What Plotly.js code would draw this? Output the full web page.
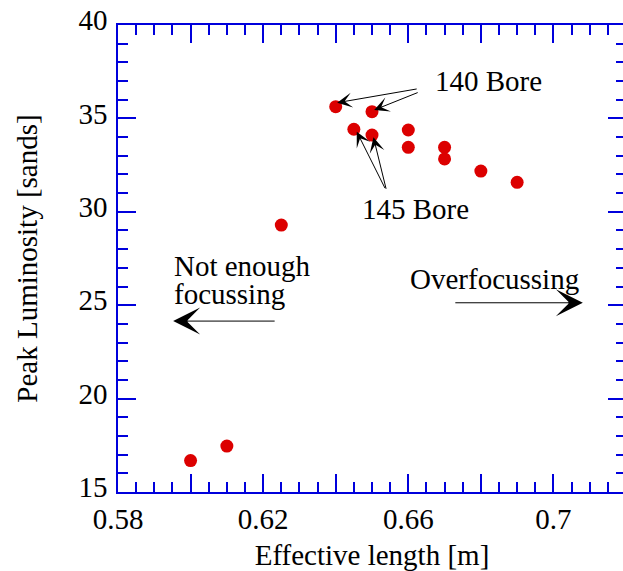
<!DOCTYPE html>
<html>
<head>
<meta charset="utf-8">
<script src="https://cdn.plot.ly/plotly-3.0.1.min.js"></script>
<style>
html, body { margin: 0; padding: 0; overflow: hidden; background: #fff; }
#chart { width: 627px; height: 571px; }
</style>
</head>
<body>
<div id="chart"></div>
<script>
// Data
const effLength = [0.64, 0.65, 0.645, 0.65, 0.66, 0.66, 0.67, 0.67, 0.68, 0.69, 0.625, 0.60, 0.61];
const peakLumi  = [35.63, 35.36, 34.42, 34.11, 34.38, 33.45, 33.45, 32.83, 32.18, 31.58, 29.29, 16.68, 17.46];

const xTickVals = [0.58, 0.60, 0.62, 0.64, 0.66, 0.68, 0.70, 0.72];
const xTickText = ['0.58', '', '0.62', '', '0.66', '', '0.7', ''];
const yTickVals = [15, 20, 25, 30, 35, 40];
const yTickText = ['15', '20', '25', '30', '35', '40'];

const FONT = "Liberation Serif";
const AXIS_BLUE = 'rgb(0,0,220)';

const trace = {
  x: effLength,
  y: peakLumi,
  type: 'scatter',
  mode: 'markers',
  marker: { color: 'rgb(220,0,0)', size: 13 },
  hoverinfo: 'x+y'
};

const axisCommon = {
  showgrid: false,
  zeroline: false,
  showline: true,
  linecolor: AXIS_BLUE,
  linewidth: 1.5,
  ticks: 'inside',
  tickcolor: AXIS_BLUE,
  tickwidth: 1.5,
  ticklen: 18,
  mirror: 'allticks',
  tickfont: { family: FONT, size: 29, color: '#000' }
};

const arrowCommon = {
  xref: 'x', yref: 'y', axref: 'pixel', ayref: 'pixel',
  text: '', showarrow: true, arrowhead: 3, arrowcolor: '#000',
  arrowwidth: 1, standoff: 0
};

const layout = {
  width: 627,
  height: 571,
  margin: { l: 118, r: 1, t: 25, b: 79 },
  paper_bgcolor: '#fff',
  plot_bgcolor: '#fff',
  showlegend: false,
  font: { family: FONT, size: 29, color: '#000' },
  xaxis: Object.assign({}, axisCommon, {
    range: [0.58, 0.72],
    tickmode: 'array',
    tickvals: xTickVals,
    ticktext: xTickText,
    minor: { dtick: 0.005, tick0: 0.58, ticks: 'inside', ticklen: 10, tickcolor: AXIS_BLUE, tickwidth: 1.5, showgrid: false },
    title: { text: 'Effective length [m]', font: { family: FONT, size: 29, color: '#000' } }
  }),
  yaxis: Object.assign({}, axisCommon, {
    range: [15, 40],
    tickmode: 'array',
    tickvals: yTickVals,
    ticktext: yTickText,
    ticklabelshift: -5,
    ticklabelstandoff: 3,
    minor: { dtick: 1, tick0: 15, ticks: 'inside', ticklen: 10, tickcolor: AXIS_BLUE, tickwidth: 1.5, showgrid: false },
    title: { text: 'Peak Luminosity [sands]', standoff: 32, font: { family: FONT, size: 29, color: '#000' } }
  }),
  annotations: [
    Object.assign({}, arrowCommon, { x: 0.6404, y: 35.84, ax: 81, ay: -14, arrowsize: 2.5 }),
    Object.assign({}, arrowCommon, { x: 0.6506, y: 35.45, ax: 45, ay: -18, arrowsize: 2.5 }),
    Object.assign({}, arrowCommon, { x: 0.6458, y: 34.29, ax: 29, ay: 58, arrowsize: 2.5 }),
    Object.assign({}, arrowCommon, { x: 0.6504, y: 33.99, ax: 13, ay: 53, arrowsize: 2.5 }),
    Object.assign({}, arrowCommon, { x: 0.5952, y: 24.15, ax: 103, ay: 0, arrowsize: 4.5 }),
    Object.assign({}, arrowCommon, { x: 0.7081, y: 25.13, ax: -129, ay: 0, arrowsize: 4.5 }),
    { xref: 'x', yref: 'y', x: 0.6821, y: 37.0, text: '140 Bore', showarrow: false, xanchor: 'center', yanchor: 'middle' },
    { xref: 'x', yref: 'y', x: 0.6619, y: 30.15, text: '145 Bore', showarrow: false, xanchor: 'center', yanchor: 'middle' },
    { xref: 'x', yref: 'y', x: 0.5948, y: 27.10, text: 'Not enough', showarrow: false, xanchor: 'left', yanchor: 'middle', align: 'left' },
    { xref: 'x', yref: 'y', x: 0.5948, y: 25.60, text: 'focussing', showarrow: false, xanchor: 'left', yanchor: 'middle', align: 'left' },
    { xref: 'x', yref: 'y', x: 0.66, y: 26.4, text: 'Overfocussing', showarrow: false, xanchor: 'left', yanchor: 'middle', align: 'left' }
  ]
};

Plotly.newPlot('chart', [trace], layout, { displayModeBar: false });
</script>
</body>
</html>
